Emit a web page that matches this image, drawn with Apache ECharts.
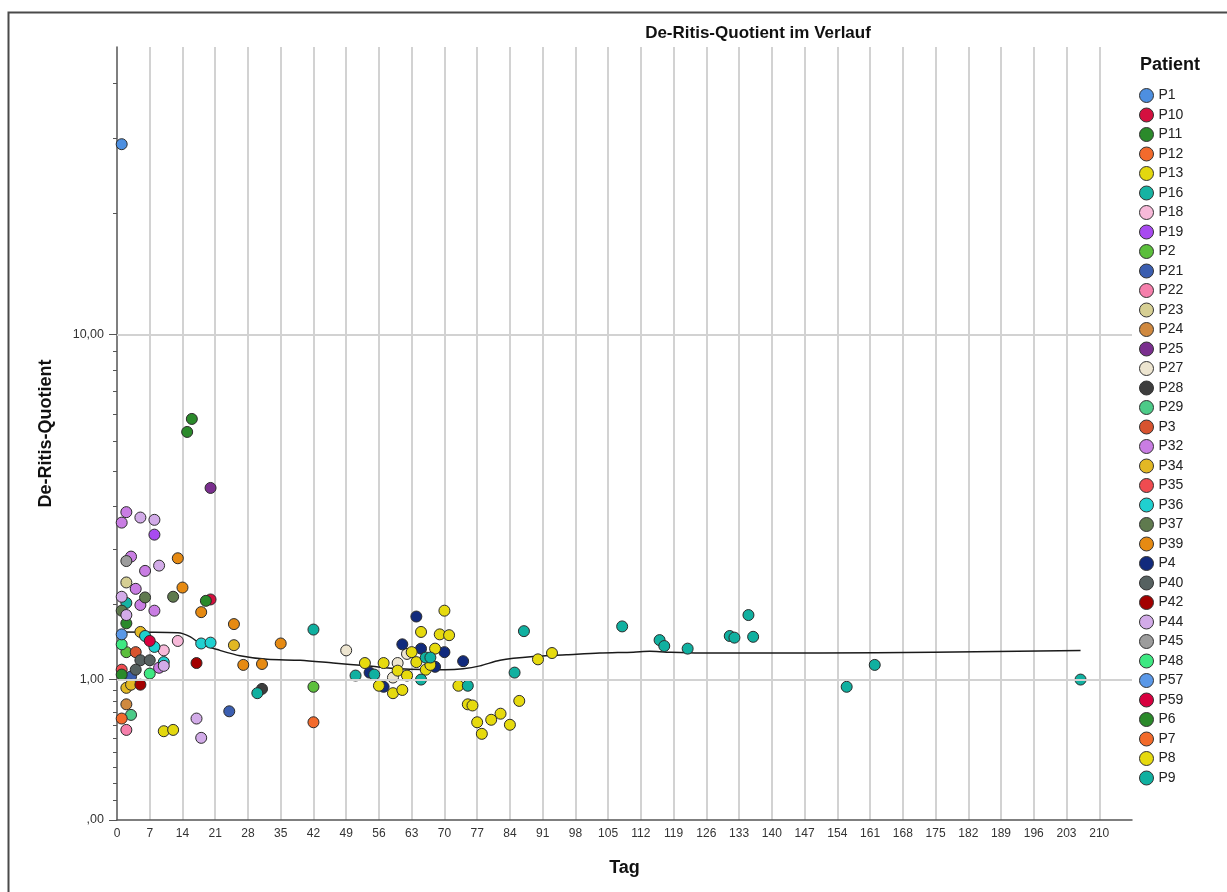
<!DOCTYPE html>
<html>
<head>
<meta charset="utf-8">
<title>De-Ritis-Quotient im Verlauf</title>
<script src="https://cdn.jsdelivr.net/npm/echarts@6/dist/echarts.min.js"></script>
<style>
  html, body { margin: 0; padding: 0; background: #fff; }
  #chart { width: 1227px; height: 892px; }
</style>
</head>
<body>
<div id="chart"></div>
<script>
// Patients in legend order
const patients = ['P1','P10','P11','P12','P13','P16','P18','P19','P2','P21','P22','P23','P24','P25','P27','P28','P29','P3','P32','P34','P35','P36','P37','P39','P4','P40','P42','P44','P45','P48','P57','P59','P6','P7','P8','P9'];

const patientColors = {
  P1:'#4d8fe0', P10:'#d4103f', P11:'#2b8a2b', P12:'#f26a2c', P13:'#e3d80f', P16:'#16b3a3',
  P18:'#f7b9d9', P19:'#a84af0', P2:'#5cbf3c', P21:'#3b5eb0', P22:'#f57fab', P23:'#d6cf93',
  P24:'#d0893f', P25:'#7a2e8e', P27:'#ede5d0', P28:'#3d3d3d', P29:'#4ccb88', P3:'#d8532f',
  P32:'#c97de3', P34:'#e2b824', P35:'#f04b50', P36:'#1fd0d0', P37:'#5f7a4e', P39:'#e68a12',
  P4:'#112a7d', P40:'#566160', P42:'#a30000', P44:'#d2abe8', P45:'#9c9c9c', P48:'#3ee882',
  P57:'#5a98e8', P59:'#d8003f', P6:'#2a8a2a', P7:'#f26a2a', P8:'#e6da0e', P9:'#10b0a0'
};

// [Tag, De-Ritis-Quotient] per patient
const P1  = [[1, 27.1]];
const P10 = [[20, 1.97]];
const P11 = [[15, 5.79], [16, 6.24], [2, 1.64]];
const P12 = [[42, 0.62]];
const P13 = [[10, 0.55], [12, 0.56]];
const P16 = [[2, 1.92]];
const P18 = [[13, 1.42], [10, 1.31]];
const P19 = [[8, 3.09]];
const P2  = [[2, 1.29], [42, 0.93]];
const P21 = [[3, 1.03], [24, 0.71]];
const P22 = [[2, 0.56]];
const P23 = [[2, 2.23]];
const P24 = [[2, 0.77]];
const P25 = [[20, 4.15]];
const P27 = [[49, 1.31], [60, 1.17], [59, 1.02], [62, 1.27]];
const P28 = [[31, 0.91]];
const P29 = [[3, 0.68]];
const P3  = [[4, 1.29]];
const P32 = [[2, 3.57], [1, 3.34], [3, 2.67], [6, 2.42], [4, 2.13], [5, 1.89], [8, 1.81], [9, 1.12]];
const P34 = [[5, 1.53], [2, 0.92], [3, 0.95], [25, 1.37]];
const P35 = [[1, 1.10]];
const P36 = [[6, 1.48], [8, 1.35], [18, 1.39], [20, 1.40], [10, 1.18]];
const P37 = [[6, 2.00], [12, 2.01], [1, 1.81]];
const P39 = [[13, 2.64], [14, 2.15], [18, 1.79], [25, 1.63], [27, 1.15], [31, 1.16], [35, 1.39]];
const P4  = [[54, 1.07], [57, 0.93], [61, 1.38], [64, 1.73], [65, 1.33], [68, 1.13], [70, 1.29], [74, 1.19]];
const P40 = [[5, 1.20], [7, 1.20], [4, 1.10]];
const P42 = [[17, 1.17], [5, 0.95]];
const P44 = [[5, 3.45], [8, 3.40], [9, 2.51], [1, 2.01], [2, 1.75], [10, 1.14], [17, 0.65], [18, 0.50]];
const P45 = [[2, 2.59]];
const P48 = [[1, 1.38], [7, 1.06]];
const P57 = [[1, 1.50]];
const P59 = [[7, 1.42]];
const P6  = [[19, 1.95], [1, 1.05]];
const P7  = [[1, 0.65]];
const P8  = [[53, 1.17], [57, 1.17], [56, 0.94], [60, 1.09], [59, 0.87], [61, 0.90], [62, 1.04], [63, 1.29],
             [65, 1.53], [64, 1.18], [66, 1.10], [67, 1.15], [68, 1.33], [70, 1.81], [69, 1.50], [71, 1.49],
             [73, 0.94], [75, 0.77], [76, 0.76], [77, 0.62], [78, 0.53], [80, 0.64], [82, 0.69], [84, 0.60],
             [86, 0.80], [90, 1.21], [93, 1.28]];
const P9  = [[30, 0.87], [42, 1.56], [51, 1.04], [55, 1.05], [66, 1.23], [67, 1.23], [65, 1.00], [75, 0.94],
             [85, 1.07], [87, 1.54], [108, 1.60], [116, 1.43], [117, 1.36], [122, 1.33], [131, 1.48],
             [132, 1.46], [135, 1.75], [136, 1.47], [156, 0.93], [162, 1.15], [206, 1.00]];

const patientData = {P1,P10,P11,P12,P13,P16,P18,P19,P2,P21,P22,P23,P24,P25,P27,P28,P29,P3,P32,P34,P35,P36,P37,P39,P4,P40,P42,P44,P45,P48,P57,P59,P6,P7,P8,P9};

// Smoothed trend (Loess) over all patients
const fitDays   = [0.3, 13, 15.7, 18, 22, 26.3, 32.1, 39.2, 46.2, 53.5, 60.5, 70.1, 74, 77.6, 81.9, 89, 96.1, 103.2, 110.4, 113.9, 117.5, 124.6, 131.7, 150.2, 174.5, 206];
const fitValues = [1.53, 1.52, 1.47, 1.38, 1.31, 1.25, 1.21, 1.20, 1.17, 1.14, 1.11, 1.10, 1.11, 1.14, 1.20, 1.24, 1.26, 1.28, 1.29, 1.30, 1.29, 1.28, 1.28, 1.28, 1.29, 1.31];

// Axis ticks (safe-log y scale)
const yMajorTicks = [0, 1, 10];
const yMinorTicks = [0.1, 0.2, 0.3, 0.4, 0.5, 0.6, 0.7, 0.8, 0.9, 1.9, 2.8, 3.7, 4.6, 5.5, 6.4, 7.3, 8.2, 9.1, 19, 28, 37];
const yTop = 44.4;
const xMax = 217;
const xStep = 7;

// safe log: sign(x) * log10(1 + |x|)
const safeLog = v => Math.sign(v) * Math.log10(1 + Math.abs(v));
const safeExp = t => Math.sign(t) * (Math.pow(10, Math.abs(t)) - 1);
const fmtDe = v => {
  let s = (Math.round(v * 100) / 100).toFixed(2).replace('.', ',');
  return s.replace(/^0,/, ',');
};

const FONT = '"Liberation Sans", Arial, sans-serif';
const yMax = safeLog(yTop);

const scatterSeries = patients.map(p => ({
  name: p,
  type: 'scatter',
  yAxisIndex: 0,
  symbol: 'circle',
  symbolSize: 11,
  z: 4,
  itemStyle: { color: patientColors[p], borderColor: '#2b2b2b', borderWidth: 1, opacity: 1 },
  data: patientData[p].map(d => [d[0], safeLog(d[1])])
}));

const chart = echarts.init(document.getElementById('chart'), null, { renderer: 'canvas' });

chart.setOption({
  animation: false,
  backgroundColor: '#ffffff',
  textStyle: { fontFamily: FONT },
  grid: { left: 117, top: 47, right: 95, bottom: 72, containLabel: false },
  graphic: [
    { type: 'rect', silent: true, z: -10,
      shape: { x: 8.5, y: 12.5, width: 1400, height: 1000 },
      style: { fill: 'none', stroke: '#4a4a4a', lineWidth: 2 } },
    { type: 'text', silent: true, x: 758, y: 33,
      style: { text: 'De-Ritis-Quotient im Verlauf', fill: '#111', font: 'bold 17px ' + FONT,
               textAlign: 'center', textVerticalAlign: 'middle' } },
    { type: 'text', silent: true, x: 1140, y: 65,
      style: { text: 'Patient', fill: '#111', font: 'bold 18px ' + FONT,
               textAlign: 'left', textVerticalAlign: 'middle' } }
  ],
  legend: {
    data: patients,
    orient: 'vertical',
    left: 1134,
    top: 83,
    icon: 'circle',
    itemWidth: 14,
    itemHeight: 14,
    itemGap: 4.5,
    itemStyle: { borderColor: '#333', borderWidth: 1 },
    textStyle: { fontFamily: FONT, fontSize: 14, color: '#222' }
  },
  xAxis: {
    type: 'value',
    min: 0,
    max: xMax,
    interval: xStep,
    name: 'Tag',
    nameLocation: 'middle',
    nameGap: 39,
    nameTextStyle: { fontFamily: FONT, fontSize: 18, fontWeight: 'bold', color: '#111' },
    axisLine: { show: true, lineStyle: { color: '#555', width: 1.5 } },
    axisTick: { show: false },
    axisLabel: { fontFamily: FONT, fontSize: 12, color: '#333', margin: 8, showMaxLabel: false },
    splitLine: { show: true, showMinLine: false, showMaxLine: false, lineStyle: { color: '#d2d2d2', width: 2 } }
  },
  yAxis: [
    {
      type: 'value',
      min: 0,
      max: yMax,
      position: 'left',
      name: 'De-Ritis-Quotient',
      nameLocation: 'middle',
      nameGap: 62,
      nameRotate: 90,
      nameTextStyle: { fontFamily: FONT, fontSize: 18, fontWeight: 'bold', color: '#111' },
      axisLine: { show: true, lineStyle: { color: '#555', width: 1.5 } },
      axisTick: { show: true, length: 8, customValues: yMajorTicks.map(safeLog), lineStyle: { color: '#555', width: 1 } },
      axisLabel: { show: true, customValues: yMajorTicks.map(safeLog), fontFamily: FONT, fontSize: 12.5, color: '#333', margin: 13,
                   formatter: t => fmtDe(safeExp(t)) },
      splitLine: { show: false }
    },
    {
      type: 'value',
      min: 0,
      max: yMax,
      position: 'left',
      offset: 0,
      axisLine: { show: false },
      axisTick: { show: true, length: 4, customValues: yMinorTicks.map(safeLog), lineStyle: { color: '#555', width: 1 } },
      axisLabel: { show: false },
      splitLine: { show: false }
    }
  ],
  series: [
    {
      name: 'Gitter',
      type: 'line',
      yAxisIndex: 0,
      data: [],
      silent: true,
      z: 1,
      markLine: {
        silent: true,
        symbol: ['none', 'none'],
        label: { show: false },
        lineStyle: { color: '#d2d2d2', width: 2, type: 'solid' },
        data: yMajorTicks.filter(v => v > 0).map(v => ({ yAxis: safeLog(v) }))
      }
    },
    {
      name: 'Loess',
      type: 'line',
      yAxisIndex: 0,
      showSymbol: false,
      symbol: 'none',
      smooth: 0.3,
      z: 3,
      silent: true,
      lineStyle: { color: '#1a1a1a', width: 1.5 },
      data: fitDays.map((d, i) => [d, safeLog(fitValues[i])])
    }
  ].concat(scatterSeries)
});
</script>
</body>
</html>
